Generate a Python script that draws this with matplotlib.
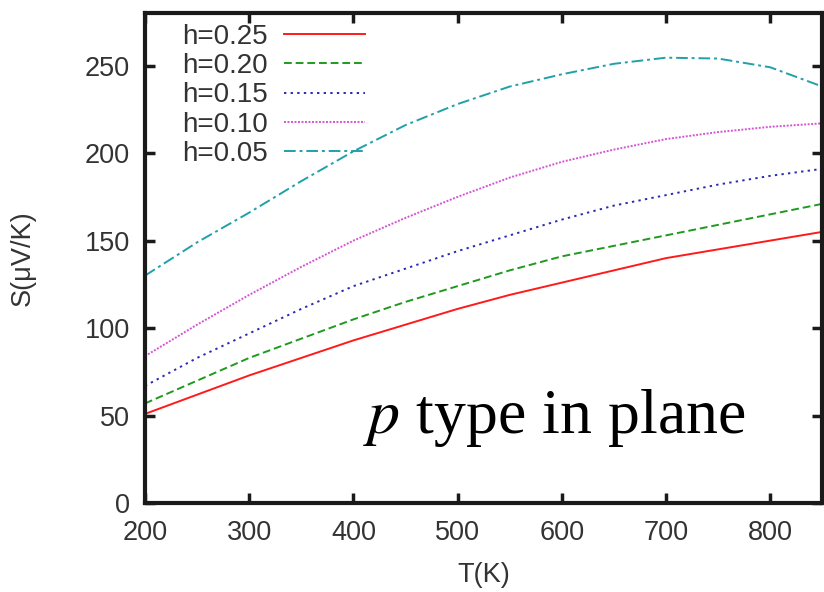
import matplotlib
matplotlib.use("Agg")
import matplotlib.pyplot as plt

T = [200, 250, 300, 350, 400, 450, 500, 550, 600, 650, 700, 750, 800, 850]
S_h025 = [51, 62, 73, 83, 93, 102, 111, 119, 126, 133, 140, 145, 150, 155]
S_h020 = [57, 70, 83, 94, 105, 115, 124, 133, 141, 147, 153, 159, 165, 171]
S_h015 = [67, 83, 97, 111, 124, 134, 144, 153, 162, 170, 176, 182, 187, 191]
S_h010 = [84, 102, 119, 135, 150, 163, 175, 186, 195, 202, 208, 212, 215, 217]
S_h005 = [130, 149, 166, 184, 201, 216, 228, 238, 245, 251, 254.5, 254, 249, 238]
labels = ["h=0.25", "h=0.20", "h=0.15", "h=0.10", "h=0.05"]
xticks = [200, 300, 400, 500, 600, 700, 800]
yticks = [0, 50, 100, 150, 200, 250]

series = [S_h025, S_h020, S_h015, S_h010, S_h005]
colors = ["#ff1a1a", "#1f9a1f", "#2a2ab0", "#d455d4", "#20a0a8"]
styles = ["-", (0, (4, 2)), (0, (1.2, 2.2)), (0, (1, 0.8)), (0, (6, 2, 1.5, 2))]

plt.rcParams["font.family"] = ["Liberation Sans", "DejaVu Sans"]
fig = plt.figure(figsize=(8.24, 5.92), dpi=100)
ax = fig.add_axes([0.176, 0.150, 0.822, 0.828])

for s, c, ls, lab in zip(series, colors, styles, labels):
    ax.plot(T, s, color=c, linestyle=ls, linewidth=1.4, label=lab)

ax.set_xlim(200, 850)
ax.set_ylim(0, 280)
ax.set_xticks(xticks)
ax.set_yticks(yticks)
ax.tick_params(direction="in", length=7, width=2.5, top=True, right=True,
               labelsize=19.5, colors="#1a1a1a")
ax.tick_params(axis="x", pad=12)
ax.tick_params(axis="y", pad=11)
for lab in ax.get_xticklabels() + ax.get_yticklabels():
    lab.set_color("#333333")
for sp in ax.spines.values():
    sp.set_linewidth(3)
    sp.set_color("#1a1a1a")

ax.set_xlabel("T(K)", fontsize=19.5, color="#333333")
ax.set_ylabel("S(\u03bcV/K)", fontsize=19.5, color="#333333")
ax.xaxis.set_label_coords(0.5, -0.12)
ax.yaxis.set_label_coords(-0.162, 0.5)

leg = ax.legend(loc="upper left", bbox_to_anchor=(0.03, 1.012), frameon=False,
                markerfirst=False, fontsize=20, handlelength=2.9,
                labelspacing=0.12, handletextpad=0.6, borderaxespad=0.2)
for t in leg.get_texts():
    t.set_color("#333333")

ax.text(0.322, 0.143, "$p$ type in plane", transform=ax.transAxes,
        fontsize=46, family="Liberation Serif", color="black",
        math_fontfamily="stix", va="baseline")

fig.savefig("out.png", dpi=100)
